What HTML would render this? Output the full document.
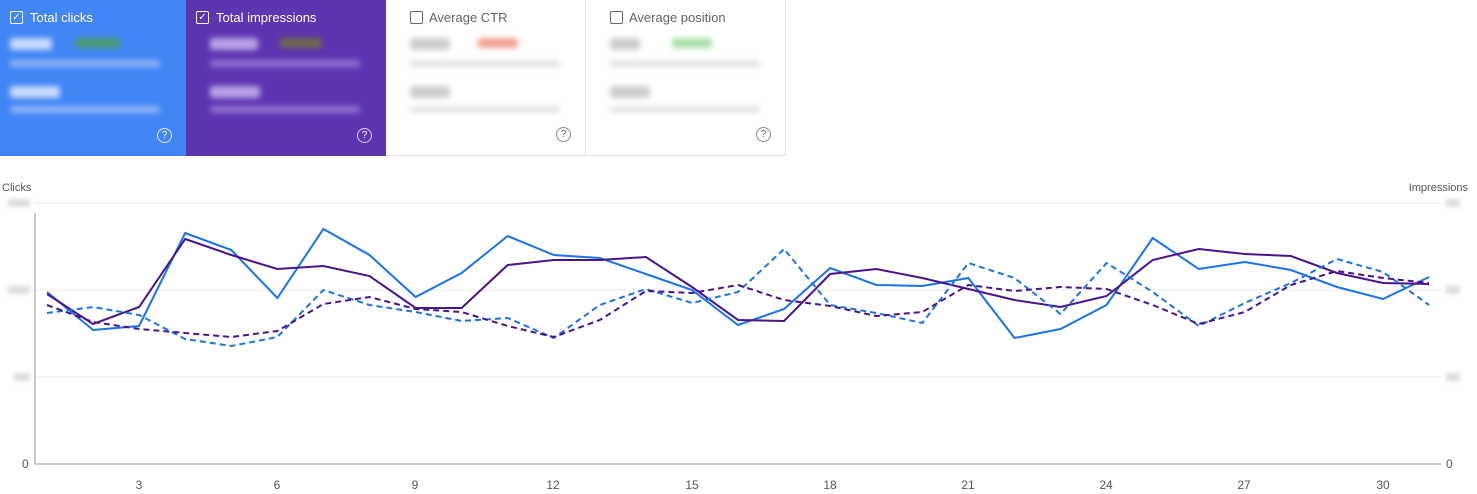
<!DOCTYPE html><html><head><style>
body{margin:0;width:1477px;height:494px;background:#fff;font-family:"Liberation Sans",sans-serif;position:relative;overflow:hidden}
.card{position:absolute;top:0;height:156px;width:200px;box-sizing:border-box}
.t{position:absolute;left:30px;top:10px;font-size:13px}
.cb{position:absolute;left:10px;top:11px;width:11px;height:11px;border:1.5px solid;border-radius:2px;font-size:10px;line-height:11px;text-align:center}
.bl{position:absolute;filter:blur(3px);border-radius:3px}
.q{position:absolute;right:14px;bottom:13px;width:13px;height:13px;border:1.5px solid;border-radius:50%;font-size:10px;line-height:13px;text-align:center}
</style></head><body>
<div class="card" style="left:0;width:186px;background:#4285f4;color:#fff"><div class="cb" style="border-color:#fff">✓</div><div class="t">Total clicks</div>
<div class="bl" style="left:10px;top:38px;width:42px;height:12px;background:#c9dafc"></div><div class="bl" style="left:75px;top:38px;width:45px;height:10px;background:#4a9a70"></div>
<div class="bl" style="left:10px;top:60px;width:150px;height:7px;background:#8fb4f8"></div><div class="bl" style="left:10px;top:86px;width:50px;height:12px;background:#c9dafc"></div><div class="bl" style="left:10px;top:106px;width:150px;height:7px;background:#8fb4f8"></div>
<div class="q" style="border-color:#dfe9fd">?</div></div>
<div class="card" style="left:186px;background:#5e35b1;color:#fff"><div class="cb" style="border-color:#fff">✓</div><div class="t">Total impressions</div>
<div class="bl" style="left:24px;top:38px;width:48px;height:12px;background:#b7a3e4"></div><div class="bl" style="left:94px;top:38px;width:42px;height:10px;background:#6e6a4a"></div>
<div class="bl" style="left:24px;top:60px;width:150px;height:7px;background:#8d72cf"></div><div class="bl" style="left:24px;top:86px;width:50px;height:12px;background:#b7a3e4"></div><div class="bl" style="left:24px;top:106px;width:150px;height:7px;background:#8d72cf"></div>
<div class="q" style="border-color:#d8cdf0">?</div></div>
<div class="card" style="left:386px;border-right:1px solid #e3e3e3;border-bottom:1px solid #e3e3e3;color:#5f6368"><div class="cb" style="left:24px;border-color:#666"></div><div class="t" style="left:43px">Average CTR</div>
<div class="bl" style="left:24px;top:38px;width:40px;height:12px;background:#ccc"></div><div class="bl" style="left:92px;top:38px;width:40px;height:10px;background:#f0a090"></div>
<div class="bl" style="left:24px;top:60px;width:150px;height:7px;background:#e3e3e3"></div><div class="bl" style="left:24px;top:86px;width:40px;height:12px;background:#ccc"></div><div class="bl" style="left:24px;top:106px;width:150px;height:7px;background:#e3e3e3"></div>
<div class="q" style="border-color:#888">?</div></div>
<div class="card" style="left:586px;border-right:1px solid #e3e3e3;border-bottom:1px solid #e3e3e3;color:#5f6368"><div class="cb" style="left:24px;border-color:#666"></div><div class="t" style="left:43px">Average position</div>
<div class="bl" style="left:24px;top:38px;width:30px;height:12px;background:#ccc"></div><div class="bl" style="left:86px;top:38px;width:40px;height:10px;background:#a8e0a8"></div>
<div class="bl" style="left:24px;top:60px;width:150px;height:7px;background:#e3e3e3"></div><div class="bl" style="left:24px;top:86px;width:40px;height:12px;background:#ccc"></div><div class="bl" style="left:24px;top:106px;width:150px;height:7px;background:#e3e3e3"></div>
<div class="q" style="border-color:#888">?</div></div>
<svg width="1477" height="494" style="position:absolute;left:0;top:0" font-family="Liberation Sans" font-size="12" fill="#555">
<text x="2" y="191" font-size="11">Clicks</text><text x="1468" y="191" font-size="11" text-anchor="end">Impressions</text>
<g stroke="#ebebeb"><line x1="35" x2="1441" y1="203" y2="203"/><line x1="35" x2="1441" y1="290" y2="290"/><line x1="35" x2="1441" y1="377" y2="377"/></g>
<line x1="35" x2="1441" y1="464" y2="464" stroke="#999"/><line x1="35" x2="35" y1="213" y2="464" stroke="#999"/>
<g fill="#ddd" style="filter:blur(2px)"><rect x="8" y="199" width="22" height="8"/><rect x="8" y="286" width="22" height="8"/><rect x="14" y="373" width="16" height="8"/><rect x="1446" y="199" width="14" height="8"/><rect x="1446" y="286" width="14" height="8"/><rect x="1446" y="373" width="14" height="8"/></g>
<text x="22" y="468">0</text><text x="1446" y="468">0</text>
<g text-anchor="middle"><text x="139" y="489">3</text><text x="277" y="489">6</text><text x="415" y="489">9</text><text x="553" y="489">12</text><text x="692" y="489">15</text><text x="830" y="489">18</text><text x="968" y="489">21</text><text x="1106" y="489">24</text><text x="1244" y="489">27</text><text x="1383" y="489">30</text></g>
<g fill="none" stroke-width="2" id="g"></g>
</svg>
<script>
var S=[["#1a73e8","",[292,330,326,233,250,298,229,255,297,273,236,255,258,274,290,325,309,268,285,286,278,338,329,305,238,269,262,270,287,299,277]],
["#4a148c","",[294,324,307,239,255,269,266,276,308,308,265,260,260,257,287,320,321,274,269,278,289,300,307,296,260,249,254,256,273,283,284]],
["#1a73e8","6 4",[313,307,315,339,346,337,290,305,312,321,318,338,305,289,303,292,249,305,313,323,263,278,314,263,292,326,303,283,259,272,305]],
["#4a148c","6 4",[305,322,329,333,337,331,304,297,309,312,326,337,320,291,293,285,300,306,316,312,285,291,287,289,305,324,312,285,271,278,283]]];
var g=document.getElementById('g');
S.forEach(function(s){var p=document.createElementNS('http://www.w3.org/2000/svg','polyline');
p.setAttribute('points',s[2].map(function(y,i){return (47+i*46.07).toFixed(1)+','+y}).join(' '));
p.setAttribute('stroke',s[0]);if(s[1])p.setAttribute('stroke-dasharray',s[1]);g.appendChild(p);});
</script>
</body></html>
